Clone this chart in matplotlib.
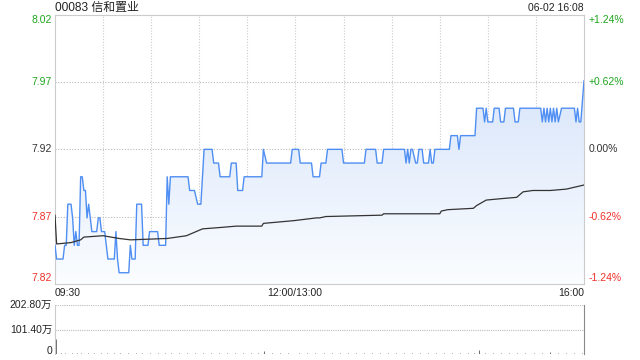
import numpy as np
import matplotlib.pyplot as plt
from matplotlib.colors import LinearSegmentedColormap

plt.rcParams['font.family'] = ['Liberation Sans', 'Noto Sans CJK SC']

# 分时价格 (时间, 价格)
price_times = ["09:30", "09:31", "09:35", "09:36", "09:37", "09:38", "09:40", "09:41", "09:42", "09:43",
               "09:44", "09:45", "09:46", "09:47", "09:48", "09:49", "09:50", "09:51", "09:53", "09:56",
               "09:57", "09:58", "09:59", "10:01", "10:03", "10:07", "10:08", "10:09", "10:10", "10:16",
               "10:17", "10:18", "10:20", "10:21", "10:24", "10:25", "10:28", "10:29", "10:34", "10:35",
               "10:39", "10:40", "10:41", "10:42", "10:53", "10:54", "10:57", "10:59", "11:01", "11:03",
               "11:08", "11:09", "11:12", "11:13", "11:19", "11:20", "11:23", "11:24", "11:27", "11:28",
               "11:39", "11:40", "11:42", "11:57", "11:58", "13:02", "13:03", "13:10", "13:11", "13:15",
               "13:16", "13:19", "13:20", "13:29", "13:30", "13:43", "13:44", "13:50", "13:51", "13:54",
               "13:55", "14:08", "14:09", "14:10", "14:11", "14:12", "14:13", "14:15", "14:16", "14:17",
               "14:19", "14:20", "14:23", "14:24", "14:25", "14:26", "14:27", "14:36", "14:37", "14:41",
               "14:42", "14:43", "14:52", "14:53", "14:57", "14:58", "14:59", "15:00", "15:03", "15:04",
               "15:07", "15:08", "15:10", "15:11", "15:16", "15:17", "15:19", "15:20", "15:33", "15:34",
               "15:35", "15:36", "15:37", "15:38", "15:39", "15:40", "15:41", "15:42", "15:43", "15:44",
               "15:46", "15:54", "15:55", "15:56", "15:57", "15:58", "16:00"]
prices = [7.85, 7.84, 7.84, 7.85, 7.85, 7.88, 7.88, 7.87, 7.85, 7.86,
          7.85, 7.85, 7.90, 7.90, 7.89, 7.89, 7.87, 7.88, 7.86, 7.86,
          7.87, 7.87, 7.86, 7.86, 7.84, 7.84, 7.86, 7.84, 7.83, 7.83,
          7.85, 7.84, 7.84, 7.88, 7.88, 7.85, 7.85, 7.86, 7.86, 7.85,
          7.85, 7.90, 7.88, 7.90, 7.90, 7.89, 7.89, 7.88, 7.88, 7.92,
          7.92, 7.91, 7.91, 7.90, 7.90, 7.91, 7.91, 7.89, 7.89, 7.90,
          7.90, 7.92, 7.91, 7.91, 7.92, 7.92, 7.91, 7.91, 7.90, 7.90,
          7.91, 7.91, 7.92, 7.92, 7.91, 7.91, 7.92, 7.92, 7.91, 7.91,
          7.92, 7.92, 7.91, 7.92, 7.91, 7.92, 7.92, 7.91, 7.91, 7.92,
          7.92, 7.91, 7.91, 7.92, 7.91, 7.91, 7.92, 7.92, 7.93, 7.93,
          7.92, 7.93, 7.93, 7.95, 7.95, 7.94, 7.95, 7.94, 7.94, 7.95,
          7.95, 7.94, 7.94, 7.95, 7.95, 7.94, 7.94, 7.95, 7.95, 7.94,
          7.95, 7.94, 7.95, 7.94, 7.95, 7.94, 7.95, 7.94, 7.95, 7.94,
          7.95, 7.95, 7.94, 7.95, 7.94, 7.94, 7.97]

# 均价线
avg_times = ["09:30", "09:31", "09:40", "09:46", "09:48", "10:00", "10:10", "10:17", "10:40", "10:52",
             "10:56", "11:02", "11:13", "11:23", "11:39", "11:40", "11:59", "13:13", "13:15", "13:19",
             "13:54", "13:55", "14:30", "14:31", "14:35", "14:51", "14:53", "14:59", "15:08", "15:18",
             "15:20", "15:22", "15:28", "15:39", "15:49", "16:00"]
avg_prices = [7.872, 7.851, 7.852, 7.854, 7.856, 7.857, 7.855, 7.854, 7.855, 7.857,
              7.859, 7.862, 7.863, 7.864, 7.864, 7.866, 7.868, 7.870, 7.870, 7.871,
              7.872, 7.873, 7.873, 7.875, 7.876, 7.877, 7.879, 7.883, 7.884, 7.885,
              7.887, 7.889, 7.890, 7.890, 7.891, 7.894]

# 成交量 (万股)
vol_times = ["09:30", "09:33", "09:36", "09:40", "09:43", "09:46", "09:50", "09:54", "09:58", "10:02",
             "10:06", "10:10", "10:15", "10:20", "10:24", "10:29", "10:34", "10:38", "10:42", "10:47",
             "10:52", "10:57", "11:02", "11:07", "11:12", "11:17", "11:22", "11:27", "11:32", "11:36",
             "11:40", "11:45", "11:50", "11:55", "13:02", "13:07", "13:12", "13:17", "13:22", "13:27",
             "13:32", "13:37", "13:42", "13:47", "13:52", "13:57", "14:02", "14:07", "14:12", "14:17",
             "14:22", "14:27", "14:32", "14:37", "14:42", "14:47", "14:51", "14:54", "14:58", "15:03",
             "15:08", "15:13", "15:18", "15:23", "15:28", "15:33", "15:38", "15:43", "15:48", "15:53",
             "15:58"]
volumes = [62, 5, 4, 6, 3, 5, 4, 3, 5, 4,
           3, 5, 4, 3, 6, 4, 3, 5, 4, 3,
           5, 4, 6, 3, 4, 5, 3, 4, 5, 3,
           12, 4, 3, 5, 4, 3, 5, 4, 3, 4,
           5, 3, 4, 3, 5, 4, 3, 4, 5, 3,
           4, 5, 3, 4, 5, 4, 6, 16, 4, 5,
           3, 4, 5, 4, 6, 3, 8, 4, 5, 3,
           6]

prev_close = 7.92
title = "00083 信和置业"
stamp = "06-02 16:08"

GREEN = '#1fa51f'
RED = '#f0302a'
BLUE = '#4f8ef2'


def to_min(t):
    h, m = map(int, t.split(':'))
    v = h * 60 + m
    return v - 570 if v <= 720 else v - 780 + 150


px = np.array([to_min(t) for t in price_times])
py = np.array(prices)
ax_ = np.array([to_min(t) for t in avg_times])
ay = np.array(avg_prices)
vx = np.array([to_min(t) for t in vol_times])
vy = np.array(volumes)

pcts = [0.0124, 0.0062, 0.0, -0.0062, -0.0124]
levels = [prev_close * (1 + p) for p in pcts]
ymin, ymax = levels[-1], levels[0]

fig = plt.figure(figsize=(6.4, 3.6), dpi=100)
ax = fig.add_axes([55 / 640, 76 / 360, 529 / 640, 269.3 / 360])
axv = fig.add_axes([55 / 640, 6 / 360, 529 / 640, 49 / 360])

ax.set_xlim(0, 330)
ax.set_ylim(ymin, ymax)

# 渐变填充
poly = ax.fill_between(px, py, ymin, color='none', lw=0)
cmap = LinearSegmentedColormap.from_list('g', ['#fbfdff', '#dbe7fb'])
grad = np.linspace(0, 1, 256).reshape(-1, 1)
im = ax.imshow(grad, cmap=cmap, aspect='auto', origin='lower',
               extent=[0, 330, ymin, 7.96], zorder=1)
im.set_clip_path(poly.get_paths()[0], transform=ax.transData)

ax.plot(px, py, color=BLUE, lw=1.0, zorder=3)
ax.plot(ax_, ay, color='#333333', lw=0.9, zorder=3)

for x in range(30, 330, 30):
    ax.axvline(x, color='#cccccc', lw=0.8, ls=(0, (1, 1.5)), zorder=0)
for y in levels[1:-1]:
    ax.axhline(y, color='#bbbbbb', lw=0.8, ls=(0, (1, 1.5)), zorder=0)

for s in ax.spines.values():
    s.set_color('#cccccc')
ax.set_xticks([])
ax.set_yticks([])

# 左右刻度标签
lcols = [GREEN, GREEN, '#333333', RED, RED]
offs = [-5, 0, 0, 0, 6]
for lv, c, p, o in zip(levels, lcols, pcts, offs):
    yy = ax.transData.transform((0, lv))[1]
    fig.text(52 / 640, (yy + o) / 360, f"{lv:.2f}", color=c, fontsize=7.5,
             ha='right', va='center')
    lab = "0.00%" if p == 0 else f"{p * 100:+.2f}%"
    fig.text(589 / 640, (yy + o) / 360, lab, color=c, fontsize=7.5,
             ha='left', va='center')

fig.text(55 / 640, 352 / 360, title, fontsize=8.6, color='#222222', ha='left', va='center')
fig.text(584 / 640, 352 / 360, stamp, fontsize=7.5, color='#222222', ha='right', va='center')

fig.text(55 / 640, 67 / 360, "09:30", fontsize=7.5, color='#222222', ha='left', va='center')
fig.text(295 / 640, 67 / 360, "12:00/13:00", fontsize=7.5, color='#222222', ha='center', va='center')
fig.text(584 / 640, 67 / 360, "16:00", fontsize=7.5, color='#222222', ha='right', va='center')

ax.text(573, ymin + 0.004, "sina.com", color='#cfcfcf', fontsize=7.5, ha='right', va='bottom')

# 成交量
axv.set_xlim(0, 330)
axv.set_ylim(0, 202.8)
axv.vlines(vx + 0.5, 0, vy, color='#555555', lw=0.6)
axv.axhline(101.4, color='#bbbbbb', lw=0.8, ls=(0, (1, 1)))
axv.axhline(202.8, color='#bbbbbb', lw=0.8, ls=(0, (1, 1)))
axv.spines['top'].set_visible(False)
axv.spines['bottom'].set_visible(False)
axv.spines['left'].set_color('#cccccc')
axv.spines['right'].set_color('#888888')
axv.set_xticks([])
axv.set_yticks([])
for v, lab in [(0, "0"), (101.4, "101.40万"), (202.8, "202.80万")]:
    yy = axv.transData.transform((0, v))[1]
    o = 3 if v == 0 else 0
    fig.text(52 / 640, (yy + o) / 360, lab, fontsize=7.5, color='#222222',
             ha='right', va='center')

fig.savefig('out.png', dpi=100)
